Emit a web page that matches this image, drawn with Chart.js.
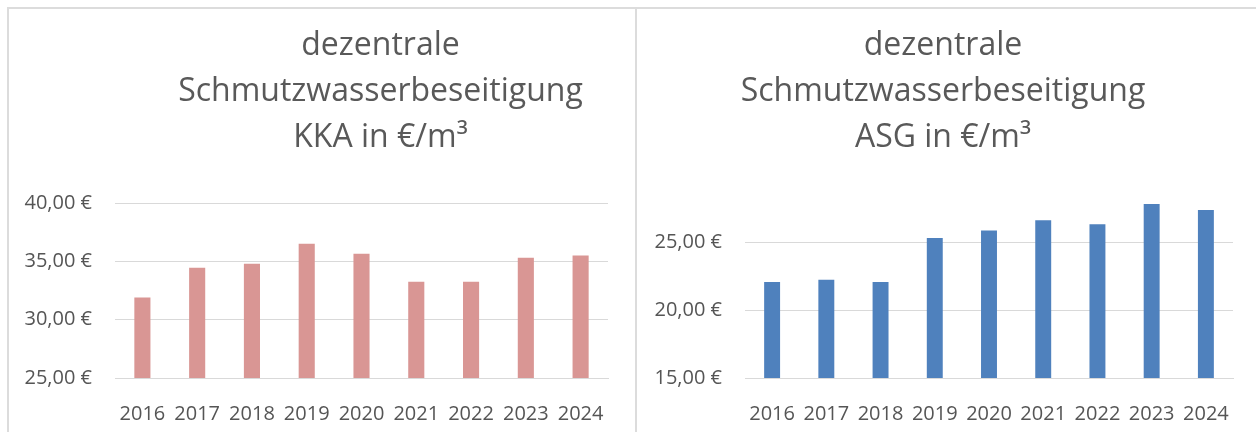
<!DOCTYPE html>
<html lang="de">
<head>
<meta charset="utf-8">
<script src="https://cdn.jsdelivr.net/npm/chart.js@4.4.1/dist/chart.umd.min.js"></script>
<style>
  html, body { margin: 0; padding: 0; background: #fff; }
  body { width: 1256px; height: 432px; position: relative; overflow: hidden; font-family: 'Open Sans', sans-serif; }
  .frame-top { position: absolute; left: 7px; top: 7px; width: 1249px; height: 0; border-top: 2px solid #dcdcdc; }
  .frame-left { position: absolute; left: 7px; top: 7px; width: 0; height: 425px; border-left: 2px solid #dcdcdc; }
  .divider { position: absolute; left: 635px; top: 7px; width: 0; height: 425px; border-left: 2px solid #dcdcdc; }
  .panel { position: absolute; top: 9px; height: 423px; }
  #p1 { left: 9px; width: 626px; }
  #p2 { left: 637px; width: 619px; }
</style>
</head>
<body>
<div class="frame-top"></div>
<div class="frame-left"></div>
<div class="divider"></div>
<div class="panel" id="p1"><canvas id="kka"></canvas></div>
<div class="panel" id="p2"><canvas id="asg"></canvas></div>

<script>
  const years = ['2016', '2017', '2018', '2019', '2020', '2021', '2022', '2023', '2024'];
  const kkaValues = [31.90, 34.45, 34.80, 36.50, 35.65, 33.25, 33.25, 35.30, 35.50];
  const asgValues = [22.10, 22.25, 22.10, 25.35, 25.90, 26.65, 26.35, 27.85, 27.40];
  const kkaTitle = ['dezentrale', 'Schmutzwasserbeseitigung', 'KKA in €/m³'];
  const asgTitle = ['dezentrale', 'Schmutzwasserbeseitigung', 'ASG in €/m³'];

  const grey = '#595959';
  const gridGrey = '#d9d9d9';

  // moves the title sideways (Excel placed the left one off-centre)
  const titleShift = {
    id: 'titleShift',
    afterLayout(chart, args, opts) {
      const tb = chart.titleBlock;
      if (tb && opts.dx) { tb.left += opts.dx; tb.right += opts.dx; }
    }
  };

  function euro(v) {
    return v.toFixed(2).replace('.', ',') + ' €';
  }

  function makeChart(id, title, values, color, yMin, yMax, axisW, padRight, titleBottom, dx) {
    return new Chart(document.getElementById(id), {
      type: 'bar',
      data: {
        labels: years,
        datasets: [{
          data: values,
          backgroundColor: color,
          borderWidth: 0,
          categoryPercentage: 1,
          barPercentage: 0.294
        }]
      },
      plugins: [titleShift],
      options: {
        responsive: true,
        maintainAspectRatio: false,
        animation: false,
        layout: { padding: { left: 0, right: padRight, top: 0, bottom: 0 } },
        plugins: {
          legend: { display: false },
          tooltip: { enabled: false },
          title: {
            display: true,
            text: title,
            color: grey,
            font: { family: 'Open Sans', size: 32, weight: 'normal', lineHeight: '46px' },
            padding: { top: 14, bottom: titleBottom }
          },
          titleShift: { dx: dx }
        },
        scales: {
          x: {
            grid: { display: false },
            border: { display: true, color: gridGrey, width: 1 },
            ticks: { color: '#555', font: { family: 'Open Sans', size: 20 }, padding: 16, maxRotation: 0, autoSkip: false },
            afterFit(scale) { scale.height = 54; }
          },
          y: {
            min: yMin,
            max: yMax,
            border: { display: false },
            grid: { color: gridGrey, lineWidth: 1, drawTicks: false },
            ticks: {
              stepSize: 5,
              includeBounds: false,
              color: '#555',
              padding: 23,
              font: { family: 'Open Sans', size: 20 },
              callback: (v) => euro(v)
            },
            afterFit(scale) { scale.width = axisW; }
          }
        }
      }
    });
  }

  makeChart('kka', kkaTitle, kkaValues, '#d99694', 25, 40, 106, 27, 42, 72);
  makeChart('asg', asgTitle, asgValues, '#4f81bd', 15, 28, 108, 23, 41, 8);
</script>
</body>
</html>
